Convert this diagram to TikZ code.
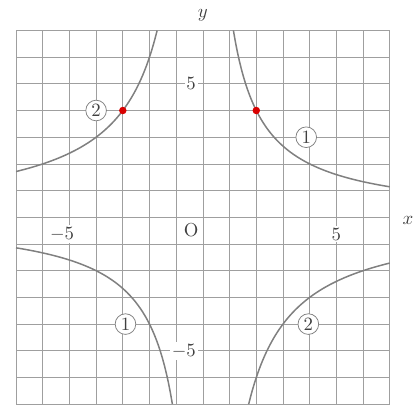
\documentclass[tikz,border=0pt]{standalone}
\usepackage{amsmath}

\begin{document}
\begin{tikzpicture}[scale=.5,text=black!75,
  lbl/.style={fill=white,inner sep=1pt},
  circnum/.style={draw=gray,circle,fill=white,inner sep=0pt,minimum size=11pt},
  hyp/.style={gray,thick,samples=80}]
\useasboundingbox(-7.6,-7.07)rectangle(7.87,8.14);
\draw[gray!75](-7,-7)grid(7,7);
\draw[hyp,domain=8/7:7]plot(\x,{8/\x});\draw[hyp,domain=-7:-8/7]plot(\x,{8/\x});
\draw[hyp,domain=-7:-12/7]plot(\x,{-12/\x});\draw[hyp,domain=12/7:7]plot(\x,{-12/\x});
\fill[red!85!black](2,4)circle(0.14);\fill[red!85!black](-3,4)circle(0.14);
\node(ylab)at(0,7.55){$y$};\node(xlab)at(7.68,-0.1){$x$};
\node(orig)at(-0.44,-0.47){O};
\node[lbl](xfive)at(5,-0.63){5};\node[lbl](xmfive)at(-5,-0.63){\llap{$-$}5};
\node[lbl,anchor=east](yfive)at(-0.18,5){5};\node[lbl,anchor=east](ymfive)at(-0.18,-5){$-$5};
\node[circnum](ca)at(3.87,3){1};\node[circnum](cb)at(-2.9,-4){1};
\node[circnum](cc)at(-4,4){2};\node[circnum](cd)at(3.95,-4){2};
\end{tikzpicture}
\end{document}
